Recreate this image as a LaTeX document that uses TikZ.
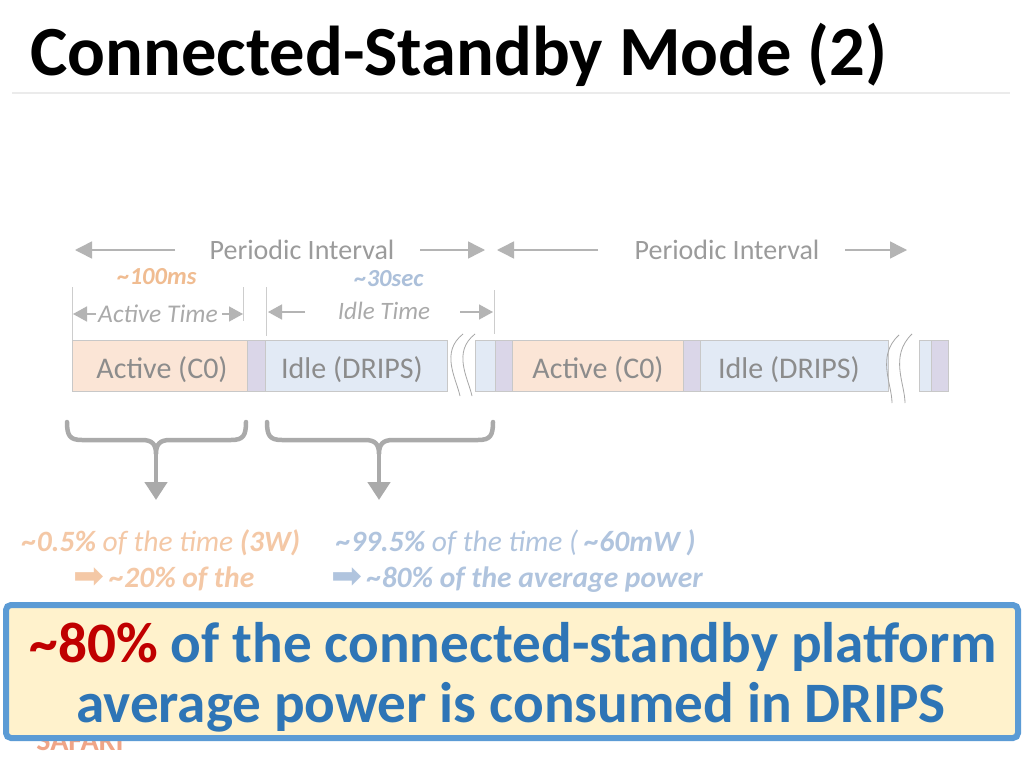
\documentclass[tikz,border=0pt]{standalone}
\usepackage{fontspec}
\setmainfont{Carlito}
\newfontfamily\dejavu{DejaVu Sans}
\usetikzlibrary{arrows.meta}
\definecolor{grayT}{RGB}{155,155,155}
\definecolor{grayT2}{RGB}{170,170,170}
\definecolor{barT}{RGB}{140,140,140}
\definecolor{arrowG}{RGB}{180,180,180}
\definecolor{tickG}{RGB}{205,205,205}
\definecolor{braceG}{RGB}{170,170,170}
\definecolor{orangeT}{RGB}{240,188,145}
\definecolor{orangeL}{RGB}{244,200,166}
\definecolor{blueT}{RGB}{172,192,218}
\definecolor{blueL}{RGB}{176,196,222}
\definecolor{segO}{RGB}{251,229,214}
\definecolor{segB}{RGB}{226,234,245}
\definecolor{segP}{RGB}{218,214,232}
\definecolor{segLine}{RGB}{200,200,200}
\definecolor{boxBorder}{RGB}{91,155,213}
\definecolor{boxFill}{RGB}{255,242,204}
\definecolor{boxText}{RGB}{46,117,182}
\definecolor{darkRed}{RGB}{192,0,0}
\definecolor{safariC}{RGB}{240,165,135}
\definecolor{ruleG}{RGB}{235,235,235}
\tikzset{
  fs/.style={font=\fontsize{#1}{#1}\selectfont},
  seg/.style={draw=segLine, line width=0.8pt, inner sep=0pt, minimum height=51pt, anchor=north west},
  segtext/.style={inner sep=0pt, anchor=base, text=barT, font=\fontsize{30}{30}\selectfont},
  dimarrow/.style={draw=arrowG, line width=1.5pt, -{Triangle[length=17pt,width=17pt]}},
  smallarrow/.style={draw=arrowG, line width=1.5pt, -{Triangle[length=14pt,width=15pt]}},
  tick/.style={draw=tickG, line width=1pt},
  bracepath/.style={draw=braceG, line width=4.5pt, line cap=round},
  bracearrow/.style={draw=braceG, line width=4.5pt, -{Triangle[length=18pt,width=22pt]}},
  squig/.style={draw=gray!70, line width=0.8pt},
  lbl/.style={inner sep=0pt, anchor=base}
}
\newcommand{\bigarrow}{\raisebox{-1pt}{\dejavu\upshape\mdseries\fontsize{37}{37}\selectfont ➡}}
\begin{document}
\begin{tikzpicture}[x=1pt,y=-1pt]
\useasboundingbox (0,0) rectangle (1024,768);
\fill[white] (0,0) rectangle (1024,768);

% title
\node[lbl, anchor=base west] (title) at (30,75) {\fontsize{70.5}{70}\selectfont\bfseries Connected-Standby Mode (2)};
\draw[ruleG, line width=2pt] (12,93) -- (1010,93);

% periodic interval labels
\node[lbl, text=grayT, fs=28] (pi1) at (302,259) {Periodic Interval};
\node[lbl, text=grayT, fs=28] (pi2) at (727,259) {Periodic Interval};
\coordinate (p1l) at (75,250);
\coordinate (p1r) at (485,250);
\coordinate (p2l) at (497,250);
\coordinate (p2r) at (907,250);
\draw[dimarrow] (175,250) -- (p1l);
\draw[dimarrow] (420,250) -- (p1r);
\draw[dimarrow] (598,250) -- (p2l);
\draw[dimarrow] (845,250) -- (p2r);

% durations
\node[lbl, text=orangeT, fs=24.5] (ms) at (157,284) {\bfseries\itshape \textasciitilde100ms};
\node[lbl, text=blueT, fs=24.5] (sec) at (389,286) {\bfseries\itshape \textasciitilde30sec};

% ticks
\draw[tick] (72,287) -- (72,340);
\draw[tick] (243,287) -- (243,321);
\draw[tick] (266,287) -- (266,336);
\draw[tick] (494,290) -- (494,334);

% active / idle time
\node[lbl, text=grayT2, fs=25.5] (at) at (158,322) {\itshape Active Time};
\node[lbl, text=grayT2, fs=25] (it) at (384,319) {\itshape Idle Time};
\coordinate (a1) at (73,314);
\coordinate (a2) at (243,314);
\coordinate (i1) at (268,312);
\coordinate (i2) at (493,312);
\draw[smallarrow] (96,314) -- (a1);
\draw[smallarrow] (222,314) -- (a2);
\draw[smallarrow] (305,312) -- (i1);
\draw[smallarrow] (460,312) -- (i2);

% bar
\node[seg, fill=segO, minimum width=175pt] (s1) at (72,340) {};
\node[seg, fill=segP, minimum width=18pt] (s2) at (247,340) {};
\node[seg, fill=segB, minimum width=182pt] (s3) at (265,340) {};
\node[seg, fill=segB, minimum width=20pt] (s4) at (475,340) {};
\node[seg, fill=segP, minimum width=17pt] (s5) at (495,340) {};
\node[seg, fill=segO, minimum width=171pt] (s6) at (512,340) {};
\node[seg, fill=segP, minimum width=17pt] (s7) at (683,340) {};
\node[seg, fill=segB, minimum width=188pt] (s8) at (700,340) {};
\node[seg, fill=segB, minimum width=12pt] (s9) at (919,340) {};
\node[seg, fill=segP, minimum width=17pt] (s10) at (931,340) {};
\node[segtext] (t1) at (162,378) {Active (C0)};
\node[segtext] (t3) at (352,378) {Idle (DRIPS)};
\node[segtext] (t6) at (598,378) {Active (C0)};
\node[segtext] (t8) at (789,378) {Idle (DRIPS)};

% squiggles
\draw[squig] (463,334) .. controls (440,352) and (456,378) .. (460,396);
\draw[squig] (475,334) .. controls (452,352) and (468,378) .. (472,396);
\draw[squig] (899,335) .. controls (876,356) and (892,384) .. (892,403);
\draw[squig] (912,334) .. controls (889,356) and (905,384) .. (905,403);

% braces
\draw[bracepath] (67,422) .. controls (67,436) and (70,440) .. (82,440) -- (142,440)
  .. controls (152,440) and (156,444) .. (156,454)
  .. controls (156,444) and (160,440) .. (170,440) -- (231,440)
  .. controls (243,440) and (246,436) .. (246,422);
\coordinate (b1) at (156,500);
\draw[bracearrow] (156,450) -- (b1);
\draw[bracepath] (267,422) .. controls (267,436) and (270,440) .. (282,440) -- (365,440)
  .. controls (375,440) and (379,444) .. (379,454)
  .. controls (379,444) and (383,440) .. (393,440) -- (478,440)
  .. controls (490,440) and (493,436) .. (493,422);
\coordinate (b2) at (379,500);
\draw[bracearrow] (379,450) -- (b2);

% result texts
\node[lbl, text=orangeL, fs=29.5] (l1) at (161,551) {\itshape\textbf{\textasciitilde0.5\%} of the time \textbf{(3W)}};
\node[lbl, text=orangeL, fs=29.5] (l2) at (164,587) {\bfseries\itshape\bigarrow\,\textasciitilde20\% of the};
\node[lbl, text=blueL, fs=29.5] (r1) at (516,551) {\itshape\textbf{\textasciitilde99.5\%} of the time ( \textbf{\textasciitilde60mW )}};
\node[lbl, text=blueL, fs=29.5] (r2) at (517,587) {\bfseries\itshape\bigarrow\,\textasciitilde80\% of the average power};

% footer, mostly hidden behind the box
\node[lbl, text=safariC, fs=30] (safari) at (80,750) {\bfseries SAFARI};

% message box
\node[draw=boxBorder, line width=6pt, fill=boxFill, rounded corners=5pt, minimum width=1012pt, minimum height=133pt, inner sep=0pt] (msg) at (512,671.5) {};
\node[lbl, text=boxText, fs=57.2] (m1) at (513,662) {\bfseries{\color{darkRed}\textasciitilde80\%} of the connected-standby platform};
\node[lbl, text=boxText, fs=57.2] (m2) at (511,722) {\bfseries average power is consumed in DRIPS};
\end{tikzpicture}
\end{document}
